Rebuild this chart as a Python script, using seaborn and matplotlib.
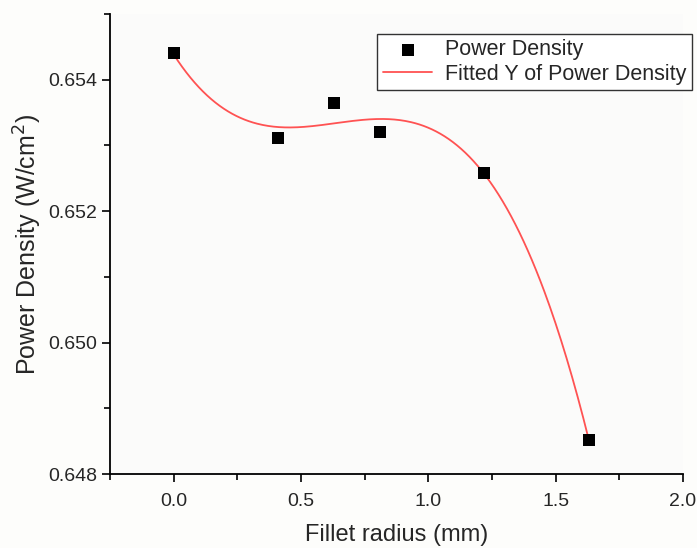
import numpy as np
import pandas as pd
import matplotlib
matplotlib.use("Agg")
import matplotlib.pyplot as plt
from matplotlib.ticker import MultipleLocator, FormatStrFormatter
import seaborn as sns

# Data
fillet_radius = [0.0, 0.41, 0.63, 0.81, 1.22, 1.63]
power_density = [0.65440, 0.65312, 0.65365, 0.65321, 0.65258, 0.64852]

x_ticks = [0.0, 0.5, 1.0, 1.5, 2.0]
y_ticks = [0.648, 0.650, 0.652, 0.654]

sns.set_style("ticks")
plt.rcParams['font.family'] = ['Liberation Sans', 'DejaVu Sans']

df = pd.DataFrame({"Fillet radius": fillet_radius, "Power Density": power_density})

# cubic polynomial fit of the data (as in the original "Fitted Y")
coef = np.polyfit(df["Fillet radius"], df["Power Density"], 3)
xfit = np.linspace(min(fillet_radius), max(fillet_radius), 300)
fit_df = pd.DataFrame({"x": xfit, "y": np.polyval(coef, xfit)})

fig = plt.figure(figsize=(6.97, 5.48), dpi=100)
fig.patch.set_facecolor("#fdfdfb")
ax = fig.add_axes([0.158, 0.135, 0.822, 0.8395])
ax.set_facecolor("#fbfbfa")

sns.lineplot(data=fit_df, x="x", y="y", ax=ax, color="#ff5252", lw=1.3,
             label="Fitted Y of Power Density", zorder=2)
sns.scatterplot(data=df, x="Fillet radius", y="Power Density", ax=ax, marker="s",
                color="black", s=70, edgecolor="black", linewidth=0,
                label="Power Density", zorder=3)

ax.set_xlim(-0.25, 2.0)
ax.set_ylim(0.648, 0.655)
ax.set_xticks(x_ticks)
ax.set_yticks(y_ticks)
ax.xaxis.set_minor_locator(MultipleLocator(0.25))
ax.yaxis.set_minor_locator(MultipleLocator(0.001))
ax.xaxis.set_major_formatter(FormatStrFormatter("%.1f"))
ax.yaxis.set_major_formatter(FormatStrFormatter("%.3f"))
ax.tick_params(which="major", direction="out", length=6, width=1.2, labelsize=14, color="black")
ax.tick_params(which="minor", direction="out", length=4, width=1.2, color="black")
ax.tick_params(axis="x", pad=8)
for side in ["left", "bottom"]:
    ax.spines[side].set_linewidth(1.3)
    ax.spines[side].set_color("black")
ax.spines["top"].set_visible(False)
ax.spines["right"].set_visible(False)

ax.set_xlabel("Fillet radius (mm)", fontsize=17, labelpad=10)
ax.set_ylabel("Power Density (W/cm$^2$)", fontsize=18, labelpad=3)

handles, labels = ax.get_legend_handles_labels()
order = [labels.index("Power Density"), labels.index("Fitted Y of Power Density")]
leg = ax.legend([handles[i] for i in order], [labels[i] for i in order],
                loc="upper right", bbox_to_anchor=(692/697, 1 - 34/548),
                bbox_transform=fig.transFigure, borderaxespad=0,
                fontsize=15.5, frameon=True,
                fancybox=False, edgecolor="#333333", framealpha=1,
                handlelength=2.3, borderpad=0.25, labelspacing=0.15, handletextpad=0.6)
leg.get_frame().set_linewidth(1.0)

fig.savefig("out.png", dpi=100)
